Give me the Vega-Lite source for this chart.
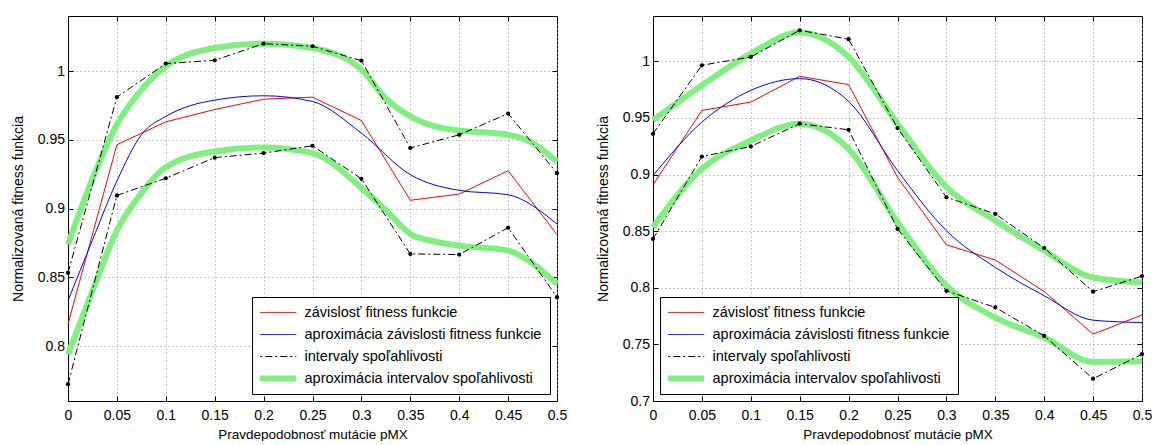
{
"$schema":"https://vega.github.io/schema/vega-lite/v6.json",
"background":"white",
"padding":{"left":10,"top":15,"right":0,"bottom":0},
"spacing":25,
"datasets":{
"L":[
{"s":"g","p":"u","x":0,"y":0.874},{"s":"g","p":"u","x":0.025,"y":0.9215},{"s":"g","p":"u","x":0.05,"y":0.961},{"s":"g","p":"u","x":0.075,"y":0.9863},{"s":"g","p":"u","x":0.1,"y":1.0034},{"s":"g","p":"u","x":0.15,"y":1.0167},{"s":"g","p":"u","x":0.2,"y":1.0199},{"s":"g","p":"u","x":0.25,"y":1.0167},{"s":"g","p":"u","x":0.3,"y":1.001},{"s":"g","p":"u","x":0.325,"y":0.98},{"s":"g","p":"u","x":0.35,"y":0.967},{"s":"g","p":"u","x":0.375,"y":0.9597},{"s":"g","p":"u","x":0.4,"y":0.9568},{"s":"g","p":"u","x":0.45,"y":0.9536},{"s":"g","p":"u","x":0.475,"y":0.9475},{"s":"g","p":"u","x":0.5,"y":0.934},
{"s":"g","p":"l","x":0,"y":0.794},{"s":"g","p":"l","x":0.025,"y":0.84},{"s":"g","p":"l","x":0.05,"y":0.884},{"s":"g","p":"l","x":0.075,"y":0.9112},{"s":"g","p":"l","x":0.1,"y":0.93},{"s":"g","p":"l","x":0.15,"y":0.9415},{"s":"g","p":"l","x":0.2,"y":0.9444},{"s":"g","p":"l","x":0.25,"y":0.9403},{"s":"g","p":"l","x":0.3,"y":0.915},{"s":"g","p":"l","x":0.325,"y":0.8988},{"s":"g","p":"l","x":0.35,"y":0.8815},{"s":"g","p":"l","x":0.375,"y":0.876},{"s":"g","p":"l","x":0.4,"y":0.873},{"s":"g","p":"l","x":0.45,"y":0.8694},{"s":"g","p":"l","x":0.475,"y":0.86},{"s":"g","p":"l","x":0.5,"y":0.845},
{"s":"r","p":"m","x":0,"y":0.816},{"s":"r","p":"m","x":0.05,"y":0.9464},{"s":"r","p":"m","x":0.1,"y":0.963},{"s":"r","p":"m","x":0.15,"y":0.972},{"s":"r","p":"m","x":0.2,"y":0.9795},{"s":"r","p":"m","x":0.25,"y":0.981},{"s":"r","p":"m","x":0.3,"y":0.964},{"s":"r","p":"m","x":0.35,"y":0.906},{"s":"r","p":"m","x":0.4,"y":0.9105},{"s":"r","p":"m","x":0.45,"y":0.9275},{"s":"r","p":"m","x":0.5,"y":0.881},
{"s":"b","p":"m","x":0,"y":0.833},{"s":"b","p":"m","x":0.025,"y":0.877},{"s":"b","p":"m","x":0.05,"y":0.92},{"s":"b","p":"m","x":0.075,"y":0.9536},{"s":"b","p":"m","x":0.1,"y":0.967},{"s":"b","p":"m","x":0.125,"y":0.9748},{"s":"b","p":"m","x":0.15,"y":0.9788},{"s":"b","p":"m","x":0.2,"y":0.982},{"s":"b","p":"m","x":0.25,"y":0.9778},{"s":"b","p":"m","x":0.3,"y":0.9548},{"s":"b","p":"m","x":0.35,"y":0.9246},{"s":"b","p":"m","x":0.4,"y":0.9132},{"s":"b","p":"m","x":0.45,"y":0.91},{"s":"b","p":"m","x":0.5,"y":0.8887},
{"s":"k","p":"u","x":0,"y":0.8532},{"s":"k","p":"u","x":0.05,"y":0.981},{"s":"k","p":"u","x":0.1,"y":1.0054},{"s":"k","p":"u","x":0.15,"y":1.0078},{"s":"k","p":"u","x":0.2,"y":1.0199},{"s":"k","p":"u","x":0.25,"y":1.018},{"s":"k","p":"u","x":0.3,"y":1.0075},{"s":"k","p":"u","x":0.35,"y":0.944},{"s":"k","p":"u","x":0.4,"y":0.9536},{"s":"k","p":"u","x":0.45,"y":0.969},{"s":"k","p":"u","x":0.5,"y":0.9257},
{"s":"k","p":"l","x":0,"y":0.7722},{"s":"k","p":"l","x":0.05,"y":0.9095},{"s":"k","p":"l","x":0.1,"y":0.922},{"s":"k","p":"l","x":0.15,"y":0.937},{"s":"k","p":"l","x":0.2,"y":0.9403},{"s":"k","p":"l","x":0.25,"y":0.9456},{"s":"k","p":"l","x":0.3,"y":0.9216},{"s":"k","p":"l","x":0.35,"y":0.867},{"s":"k","p":"l","x":0.4,"y":0.8665},{"s":"k","p":"l","x":0.45,"y":0.886},{"s":"k","p":"l","x":0.5,"y":0.8355}
],
"R":[
{"s":"g","p":"u","x":0,"y":0.9478},{"s":"g","p":"u","x":0.05,"y":0.9788},{"s":"g","p":"u","x":0.1,"y":1.0068},{"s":"g","p":"u","x":0.15,"y":1.0254},{"s":"g","p":"u","x":0.2,"y":1.0038},{"s":"g","p":"u","x":0.25,"y":0.9449},{"s":"g","p":"u","x":0.3,"y":0.8888},{"s":"g","p":"u","x":0.35,"y":0.8593},{"s":"g","p":"u","x":0.4,"y":0.8327},{"s":"g","p":"u","x":0.45,"y":0.8091},{"s":"g","p":"u","x":0.5,"y":0.8047},
{"s":"g","p":"l","x":0,"y":0.8534},{"s":"g","p":"l","x":0.05,"y":0.905},{"s":"g","p":"l","x":0.1,"y":0.93},{"s":"g","p":"l","x":0.15,"y":0.9449},{"s":"g","p":"l","x":0.2,"y":0.9227},{"s":"g","p":"l","x":0.25,"y":0.8578},{"s":"g","p":"l","x":0.3,"y":0.8018},{"s":"g","p":"l","x":0.35,"y":0.7737},{"s":"g","p":"l","x":0.4,"y":0.756},{"s":"g","p":"l","x":0.45,"y":0.7345},{"s":"g","p":"l","x":0.5,"y":0.735},
{"s":"r","p":"m","x":0,"y":0.8909},{"s":"r","p":"m","x":0.05,"y":0.9566},{"s":"r","p":"m","x":0.1,"y":0.964},{"s":"r","p":"m","x":0.15,"y":0.9867},{"s":"r","p":"m","x":0.2,"y":0.9794},{"s":"r","p":"m","x":0.25,"y":0.8976},{"s":"r","p":"m","x":0.3,"y":0.838},{"s":"r","p":"m","x":0.35,"y":0.8245},{"s":"r","p":"m","x":0.4,"y":0.7967},{"s":"r","p":"m","x":0.45,"y":0.759},{"s":"r","p":"m","x":0.5,"y":0.776},
{"s":"b","p":"m","x":0,"y":0.899},{"s":"b","p":"m","x":0.05,"y":0.9463},{"s":"b","p":"m","x":0.1,"y":0.9743},{"s":"b","p":"m","x":0.15,"y":0.9847},{"s":"b","p":"m","x":0.2,"y":0.9646},{"s":"b","p":"m","x":0.25,"y":0.9035},{"s":"b","p":"m","x":0.3,"y":0.8504},{"s":"b","p":"m","x":0.35,"y":0.818},{"s":"b","p":"m","x":0.4,"y":0.793},{"s":"b","p":"m","x":0.45,"y":0.7714},{"s":"b","p":"m","x":0.5,"y":0.7693},
{"s":"k","p":"u","x":0,"y":0.936},{"s":"k","p":"u","x":0.05,"y":0.9965},{"s":"k","p":"u","x":0.1,"y":1.0038},{"s":"k","p":"u","x":0.15,"y":1.0274},{"s":"k","p":"u","x":0.2,"y":1.0195},{"s":"k","p":"u","x":0.25,"y":0.941},{"s":"k","p":"u","x":0.3,"y":0.8799},{"s":"k","p":"u","x":0.35,"y":0.8652},{"s":"k","p":"u","x":0.4,"y":0.8351},{"s":"k","p":"u","x":0.45,"y":0.7965},{"s":"k","p":"u","x":0.5,"y":0.8103},
{"s":"k","p":"l","x":0,"y":0.8431},{"s":"k","p":"l","x":0.05,"y":0.9159},{"s":"k","p":"l","x":0.1,"y":0.9248},{"s":"k","p":"l","x":0.15,"y":0.9449},{"s":"k","p":"l","x":0.2,"y":0.9395},{"s":"k","p":"l","x":0.25,"y":0.852},{"s":"k","p":"l","x":0.3,"y":0.7973},{"s":"k","p":"l","x":0.35,"y":0.7826},{"s":"k","p":"l","x":0.4,"y":0.7575},{"s":"k","p":"l","x":0.45,"y":0.7197},{"s":"k","p":"l","x":0.5,"y":0.7413}
]
},
"hconcat":[
{
"width":489,"height":385,
"data":{"name":"L"},
"encoding":{
"color":{"field":"s","type":"nominal","scale":{"domain":["r","b","k","g"],"range":["#ff0000","#0000ff","#000000","#80ef80"]},
"legend":{"orient":"bottom-right","offset":7,"title":null,"symbolType":"stroke","symbolSize":2116,"symbolOffset":6,"labelFontSize":14.5,"labelFont":"Liberation Sans","labelColor":"black","padding":8,"rowPadding":6,"clipHeight":15,"strokeColor":"black","fillColor":"white","labelLimit":400,"labelOffset":24,
"labelExpr":"datum.value=='r'?'závislosť fitness funkcie':datum.value=='b'?'aproximácia závislosti fitness funkcie':datum.value=='k'?'intervaly spoľahlivosti':'aproximácia intervalov spoľahlivosti'",
"encode":{"symbols":{"update":{"strokeWidth":{"signal":"datum.value=='g'?6:1"},"strokeDash":{"signal":"datum.value=='k'?[7,3,2,3]:[1,0]"}}}}}},
"detail":{"field":"p","type":"nominal"}
},
"layer":[
{"transform":[{"filter":"datum.s=='g'"}],"mark":{"type":"line","interpolate":"monotone","strokeWidth":6,"strokeCap":"butt"},
"encoding":{
"x":{"field":"x","type":"quantitative","scale":{"domain":[0,0.5],"nice":false},"axis":{"values":[0,0.05,0.1,0.15,0.2,0.25,0.3,0.35,0.4,0.45,0.5],"format":"~g","title":"Pravdepodobnosť mutácie pMX","grid":true}},
"y":{"field":"y","type":"quantitative","scale":{"domain":[0.76,1.04],"nice":false,"zero":false},"axis":{"values":[0.8,0.85,0.9,0.95,1],"format":"~g","title":"Normalizovaná fitness funkcia","grid":true}}}},
{"transform":[{"filter":"datum.s=='r'"}],"mark":{"type":"line","strokeWidth":1},
"encoding":{
"x":{"field":"x","type":"quantitative","scale":{"domain":[0,0.5],"nice":false},"axis":{"orient":"top","values":[0,0.05,0.1,0.15,0.2,0.25,0.3,0.35,0.4,0.45,0.5],"labels":false,"title":null,"grid":false,"domain":false}},
"y":{"field":"y","type":"quantitative","scale":{"domain":[0.76,1.04],"nice":false,"zero":false},"axis":{"orient":"right","values":[0.8,0.85,0.9,0.95,1],"labels":false,"title":null,"grid":false,"domain":false}}}},
{"transform":[{"filter":"datum.s=='b'"}],"mark":{"type":"line","interpolate":"monotone","strokeWidth":1},
"encoding":{"x":{"field":"x","type":"quantitative","axis":null},"y":{"field":"y","type":"quantitative","axis":null}}},
{"transform":[{"filter":"datum.s=='k'"}],"mark":{"type":"line","strokeWidth":1,"strokeDash":[7,3,2,3]},
"encoding":{"x":{"field":"x","type":"quantitative","axis":null},"y":{"field":"y","type":"quantitative","axis":null}}},
{"transform":[{"filter":"datum.s=='k'"}],"mark":{"type":"circle","size":18,"opacity":1},
"encoding":{"x":{"field":"x","type":"quantitative","axis":null},"y":{"field":"y","type":"quantitative","axis":null}}}
],
"resolve":{"axis":{"x":"independent","y":"independent"}}
},
{
"width":489,"height":385,
"data":{"name":"R"},
"encoding":{
"color":{"field":"s","type":"nominal","scale":{"domain":["r","b","k","g"],"range":["#ff0000","#0000ff","#000000","#80ef80"]},
"legend":{"orient":"bottom-left","offset":7,"title":null,"symbolType":"stroke","symbolSize":2116,"symbolOffset":6,"labelFontSize":14.5,"labelFont":"Liberation Sans","labelColor":"black","padding":8,"rowPadding":6,"clipHeight":15,"strokeColor":"black","fillColor":"white","labelLimit":400,"labelOffset":24,
"labelExpr":"datum.value=='r'?'závislosť fitness funkcie':datum.value=='b'?'aproximácia závislosti fitness funkcie':datum.value=='k'?'intervaly spoľahlivosti':'aproximácia intervalov spoľahlivosti'",
"encode":{"symbols":{"update":{"strokeWidth":{"signal":"datum.value=='g'?6:1"},"strokeDash":{"signal":"datum.value=='k'?[7,3,2,3]:[1,0]"}}}}}},
"detail":{"field":"p","type":"nominal"}
},
"layer":[
{"transform":[{"filter":"datum.s=='g'"}],"mark":{"type":"line","interpolate":"monotone","strokeWidth":6,"strokeCap":"butt"},
"encoding":{
"x":{"field":"x","type":"quantitative","scale":{"domain":[0,0.5],"nice":false},"axis":{"values":[0,0.05,0.1,0.15,0.2,0.25,0.3,0.35,0.4,0.45,0.5],"format":"~g","title":"Pravdepodobnosť mutácie pMX","grid":true}},
"y":{"field":"y","type":"quantitative","scale":{"domain":[0.7,1.04],"nice":false,"zero":false},"axis":{"values":[0.7,0.75,0.8,0.85,0.9,0.95,1],"format":"~g","title":"Normalizovaná fitness funkcia","grid":true}}}},
{"transform":[{"filter":"datum.s=='r'"}],"mark":{"type":"line","strokeWidth":1},
"encoding":{
"x":{"field":"x","type":"quantitative","scale":{"domain":[0,0.5],"nice":false},"axis":{"orient":"top","values":[0,0.05,0.1,0.15,0.2,0.25,0.3,0.35,0.4,0.45,0.5],"labels":false,"title":null,"grid":false,"domain":false}},
"y":{"field":"y","type":"quantitative","scale":{"domain":[0.7,1.04],"nice":false,"zero":false},"axis":{"orient":"right","values":[0.7,0.75,0.8,0.85,0.9,0.95,1],"labels":false,"title":null,"grid":false,"domain":false}}}},
{"transform":[{"filter":"datum.s=='b'"}],"mark":{"type":"line","interpolate":"monotone","strokeWidth":1},
"encoding":{"x":{"field":"x","type":"quantitative","axis":null},"y":{"field":"y","type":"quantitative","axis":null}}},
{"transform":[{"filter":"datum.s=='k'"}],"mark":{"type":"line","strokeWidth":1,"strokeDash":[7,3,2,3]},
"encoding":{"x":{"field":"x","type":"quantitative","axis":null},"y":{"field":"y","type":"quantitative","axis":null}}},
{"transform":[{"filter":"datum.s=='k'"}],"mark":{"type":"circle","size":18,"opacity":1},
"encoding":{"x":{"field":"x","type":"quantitative","axis":null},"y":{"field":"y","type":"quantitative","axis":null}}}
],
"resolve":{"axis":{"x":"independent","y":"independent"}}
}
],
"resolve":{"scale":{"x":"independent","y":"independent","color":"independent"},"legend":{"color":"independent"}},
"config":{
"font":"Liberation Sans",
"view":{"stroke":"black","strokeWidth":1},
"axis":{"domainColor":"black","tickColor":"black","labelColor":"black","titleColor":"black","labelFont":"Liberation Sans","titleFont":"Liberation Sans","labelFontSize":14,"titleFontWeight":"normal","gridColor":"#999999","gridDash":[1,3],"gridOpacity":1,"gridWidth":1,"tickSize":-5,"labelFlush":false,"labelOverlap":false},
"axisX":{"labelPadding":12,"titlePadding":5,"titleFontSize":13.5},
"axisY":{"labelPadding":8.5,"titlePadding":12,"titleFontSize":14}
}
}
